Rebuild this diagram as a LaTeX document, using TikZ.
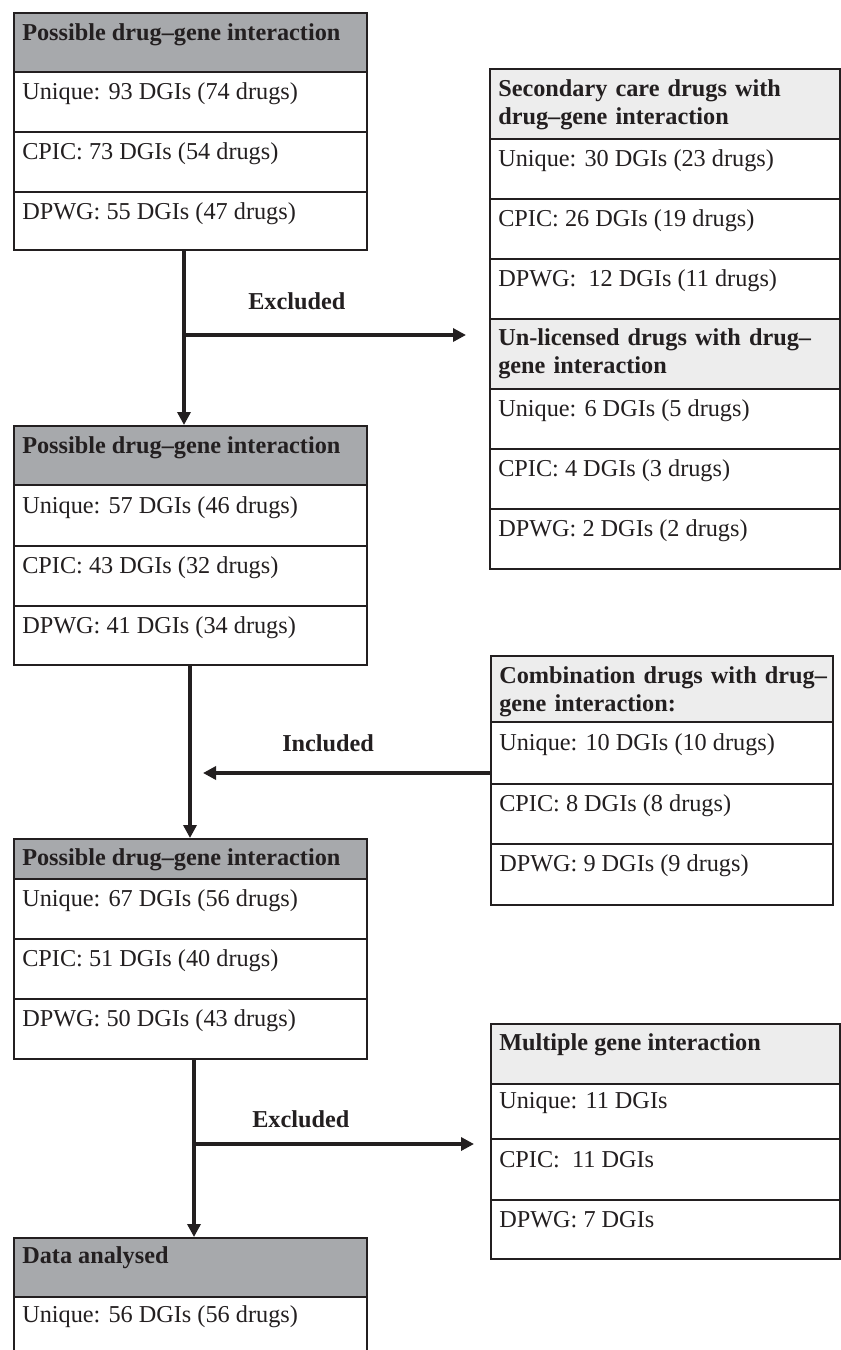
\documentclass[tikz,border=0pt]{standalone}
\usepackage{fontspec}
\setmainfont{Liberation Serif}
\usetikzlibrary{arrows.meta,calc}
\definecolor{hdark}{HTML}{A7A9AC}
\definecolor{hlight}{HTML}{EDEDED}
\definecolor{ink}{HTML}{231F20}
\begin{document}
\begin{tikzpicture}[x=0.75pt,y=-0.75pt,
  cell/.style={draw=ink, line width=1.5pt, inner sep=0pt, anchor=north west, fill=white},
  darkhead/.style={cell, fill=hdark},
  lighthead/.style={cell, fill=hlight},
  txt/.style={font=\fontsize{18.2pt}{21pt}\selectfont, inner sep=0pt, anchor=base west, text=ink},
  hdr/.style={txt, font=\fontsize{18.2pt}{21pt}\selectfont\bfseries},
  hdr2/.style={hdr, text width=255pt, align=left},
  conn/.style={draw=ink, line width=2.6pt},
  arr/.style={conn, -{Triangle[length=9.75pt, width=9.75pt]}}
]
\useasboundingbox (0,0) rectangle (841,1350);
\clip (0,0) rectangle (841,1350);
\fill[white] (0,0) rectangle (841,1350);

% ---------- Box 1 ----------
\node[darkhead, minimum width=264.75pt, minimum height=44.25pt] (b1h) at (13,12) {};
\node[cell, minimum width=264.75pt, minimum height=45pt] (b1u) at (13,71) {};
\node[cell, minimum width=264.75pt, minimum height=45pt] (b1c) at (13,131) {};
\node[cell, minimum width=264.75pt, minimum height=43.5pt] (b1d) at (13,191) {};
\node[hdr] (t1h) at ($(b1h.north west)+(9,28)$) {Possible drug--gene interaction};
\node[txt] (t1u) at ($(b1u.north west)+(9,28)$) {Unique: 93 DGIs (74 drugs)};
\node[txt] (t1c) at ($(b1c.north west)+(9,28)$) {CPIC: 73 DGIs (54 drugs)};
\node[txt] (t1d) at ($(b1d.north west)+(9,28)$) {DPWG: 55 DGIs (47 drugs)};

% ---------- Box 2 ----------
\node[darkhead, minimum width=264.75pt, minimum height=44.25pt] (b2h) at (13,425) {};
\node[cell, minimum width=264.75pt, minimum height=45.75pt] (b2u) at (13,484) {};
\node[cell, minimum width=264.75pt, minimum height=45pt] (b2c) at (13,545) {};
\node[cell, minimum width=264.75pt, minimum height=44.25pt] (b2d) at (13,605) {};
\node[hdr] (t2h) at ($(b2h.north west)+(9,28)$) {Possible drug--gene interaction};
\node[txt] (t2u) at ($(b2u.north west)+(9,29)$) {Unique: 57 DGIs (46 drugs)};
\node[txt] (t2c) at ($(b2c.north west)+(9,28)$) {CPIC: 43 DGIs (32 drugs)};
\node[txt] (t2d) at ($(b2d.north west)+(9,28)$) {DPWG: 41 DGIs (34 drugs)};

% ---------- Box 3 ----------
\node[darkhead, minimum width=264.75pt, minimum height=30pt] (b3h) at (13,838) {};
\node[cell, minimum width=264.75pt, minimum height=45pt] (b3u) at (13,878) {};
\node[cell, minimum width=264.75pt, minimum height=45pt] (b3c) at (13,938) {};
\node[cell, minimum width=264.75pt, minimum height=45pt] (b3d) at (13,998) {};
\node[hdr] (t3h) at ($(b3h.north west)+(9,27)$) {Possible drug--gene interaction};
\node[txt] (t3u) at ($(b3u.north west)+(9,28)$) {Unique: 67 DGIs (56 drugs)};
\node[txt] (t3c) at ($(b3c.north west)+(9,28)$) {CPIC: 51 DGIs (40 drugs)};
\node[txt] (t3d) at ($(b3d.north west)+(9,28)$) {DPWG: 50 DGIs (43 drugs)};

% ---------- Box 4 ----------
\node[darkhead, minimum width=264.75pt, minimum height=44.25pt] (b4h) at (13,1237) {};
\node[cell, minimum width=264.75pt, minimum height=75pt] (b4u) at (13,1296) {};
\node[hdr] (t4h) at ($(b4h.north west)+(9,26)$) {Data analysed};
\node[txt] (t4u) at ($(b4u.north west)+(9,26)$) {Unique: 56 DGIs (56 drugs)};

% ---------- Right box: secondary care / un-licensed ----------
\node[lighthead, minimum width=262.5pt, minimum height=52.5pt] (sh) at (489,68) {};
\node[cell, minimum width=262.5pt, minimum height=45pt] (su) at (489,138) {};
\node[cell, minimum width=262.5pt, minimum height=45pt] (sc) at (489,198) {};
\node[cell, minimum width=262.5pt, minimum height=45pt] (sd) at (489,258) {};
\node[lighthead, minimum width=262.5pt, minimum height=52.5pt] (uh) at (489,318) {};
\node[cell, minimum width=262.5pt, minimum height=45pt] (uu) at (489,388) {};
\node[cell, minimum width=262.5pt, minimum height=45pt] (uc) at (489,448) {};
\node[cell, minimum width=262.5pt, minimum height=45pt] (ud) at (489,508) {};
\node[hdr2] (tsh) at ($(sh.north west)+(9,28)$) {Secondary care drugs with\\drug--gene interaction};
\node[txt] (tsu) at ($(su.north west)+(9,28)$) {Unique: 30 DGIs (23 drugs)};
\node[txt] (tsc) at ($(sc.north west)+(9,28)$) {CPIC: 26 DGIs (19 drugs)};
\node[txt] (tsd) at ($(sd.north west)+(9,28)$) {DPWG:\ \ 12 DGIs (11 drugs)};
\node[hdr2] (tuh) at ($(uh.north west)+(9,27)$) {Un-licensed drugs with drug--\\gene interaction};
\node[txt] (tuu) at ($(uu.north west)+(9,28)$) {Unique: 6 DGIs (5 drugs)};
\node[txt] (tuc) at ($(uc.north west)+(9,28)$) {CPIC: 4 DGIs (3 drugs)};
\node[txt] (tud) at ($(ud.north west)+(9,28)$) {DPWG: 2 DGIs (2 drugs)};

% ---------- Right box: combination ----------
\node[lighthead, minimum width=256.5pt, minimum height=49.5pt] (ch) at (490,655) {};
\node[cell, minimum width=256.5pt, minimum height=46.5pt] (cu) at (490,721) {};
\node[cell, minimum width=256.5pt, minimum height=45pt] (cc) at (490,783) {};
\node[cell, minimum width=256.5pt, minimum height=45.75pt] (cd) at (490,843) {};
\node[hdr2] (tch) at ($(ch.north west)+(9,28)$) {Combination drugs with drug--\\gene interaction:};
\node[txt] (tcu) at ($(cu.north west)+(9,29)$) {Unique: 10 DGIs (10 drugs)};
\node[txt] (tcc) at ($(cc.north west)+(9,28)$) {CPIC: 8 DGIs (8 drugs)};
\node[txt] (tcd) at ($(cd.north west)+(9,28)$) {DPWG: 9 DGIs (9 drugs)};

% ---------- Right box: multiple gene ----------
\node[lighthead, minimum width=261.75pt, minimum height=45pt] (mh) at (490,1023) {};
\node[cell, minimum width=261.75pt, minimum height=41.25pt] (mu) at (490,1083) {};
\node[cell, minimum width=261.75pt, minimum height=45.75pt] (mc) at (490,1138) {};
\node[cell, minimum width=261.75pt, minimum height=44.25pt] (md) at (490,1199) {};
\node[hdr] (tmh) at ($(mh.north west)+(9,27)$) {Multiple gene interaction};
\node[txt] (tmu) at ($(mu.north west)+(9,25)$) {Unique: 11 DGIs};
\node[txt] (tmc) at ($(mc.north west)+(9,29)$) {CPIC:\ \ 11 DGIs};
\node[txt] (tmd) at ($(md.north west)+(9,28)$) {DPWG: 7 DGIs};

% ---------- Connectors ----------
\coordinate (v1) at (184,335);
\coordinate (e1) at (466,335);
\draw[arr] (b1d.south -| v1) -- (b2h.north -| v1);
\draw[arr] (v1) -- (e1);
\node[hdr] (lex1) at (248,309) {Excluded};

\coordinate (v2) at (190,773);
\coordinate (i2) at (203,773);
\draw[arr] (b2d.south -| v2) -- (b3h.north -| v2);
\draw[arr] (cu.west |- i2) -- (i2);
\node[hdr] (linc) at (282,751) {Included};

\coordinate (v3) at (194,1144);
\coordinate (e3) at (474,1144);
\draw[arr] (b3d.south -| v3) -- (b4h.north -| v3);
\draw[arr] (v3) -- (e3);
\node[hdr] (lex3) at (252,1127) {Excluded};
\end{tikzpicture}
\end{document}
